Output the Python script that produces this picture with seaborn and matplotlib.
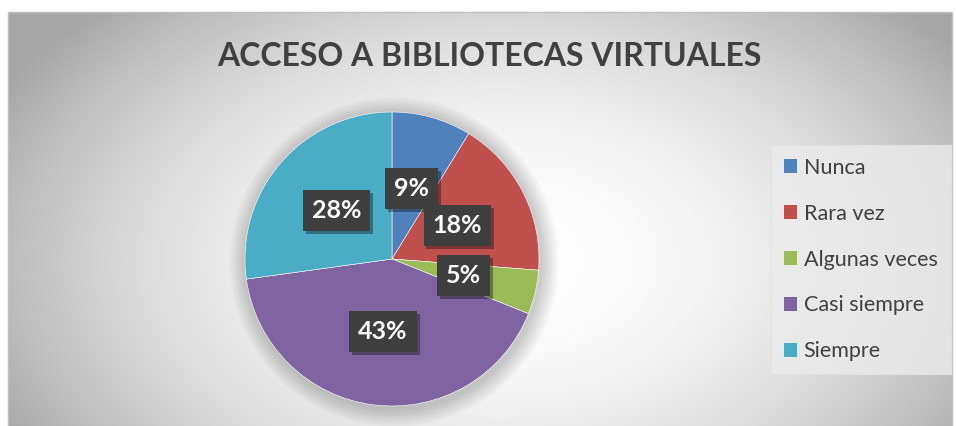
import numpy as np
import matplotlib
matplotlib.use("Agg")
import matplotlib.pyplot as plt
import matplotlib.patheffects as pe
from matplotlib.patches import Patch, Rectangle
import seaborn as sns

# data
categories = ["Nunca", "Rara vez", "Algunas veces", "Casi siempre", "Siempre"]
values = [9, 18, 5, 43, 28]
pct_labels = ["9%", "18%", "5%", "43%", "28%"]
title = "ACCESO A BIBLIOTECAS VIRTUALES"

sns.set_theme(style="white")
plt.rcParams["font.family"] = ["Lato", "DejaVu Sans"]

colors = sns.color_palette(["#4f81bd", "#c0504d", "#9bbb59", "#8064a2", "#4bacc6"])

W, H = 956, 426
fig = plt.figure(figsize=(W / 100, H / 100), dpi=100)
fig.patch.set_facecolor("white")

# background: radial gradient chart area with a thin grey border
bg = fig.add_axes([0, 0, 1, 1], zorder=0)
bg.set_xlim(0, W)
bg.set_ylim(H, 0)
bg.axis("off")
yy, xx = np.mgrid[0:H, 0:W]
d = np.sqrt(((xx - 500) / 470.0) ** 2 + ((yy - 260) / 300.0) ** 2)
shade = 1 - 0.24 * np.clip(d, 0, 1.2) ** 2
left, top, right = 8, 12, 952
img = np.ones((H, W, 3))
for c in range(3):
    img[:, :, c] = shade
img[:top, :, :] = 1
img[:, :left, :] = 1
img[:, right:, :] = 1
bg.imshow(img, extent=(0, W, H, 0), aspect="auto", interpolation="bilinear")
bg.add_patch(Rectangle((left, top), right - left, H - top + 5, fill=False,
                       edgecolor="#bfbfbf", linewidth=1))

# pie
cx, cy, r = 392, 259, 147
ax = fig.add_axes([(cx - r) / W, (H - cy - r) / H, 2 * r / W, 2 * r / H], zorder=2)
ax.patch.set_alpha(0)

# soft shadow around the pie
for k in range(10):
    ax.add_patch(plt.Circle((0.015, -0.02), 1.0 + 0.012 * (k + 1), color="black",
                            alpha=0.018, linewidth=0, zorder=0, clip_on=False))

wedges, texts = ax.pie(values, colors=colors, startangle=90, counterclock=False,
                       labels=pct_labels, labeldistance=0.5,
                       wedgeprops=dict(edgecolor="white", linewidth=0.4))
for t in texts:
    t.set_color("white")
    t.set_fontweight("bold")
    t.set_fontsize(18)
    t.set_ha("center")
    t.set_va("center")
    t.set_bbox(dict(boxstyle="square,pad=0.36", facecolor="#3f3f3f", edgecolor="none"))
    t.get_bbox_patch().set_path_effects([
        pe.SimplePatchShadow(offset=(2, -2), shadow_rgbFace="black", alpha=0.35),
        pe.Normal()])
ax.set_xlim(-1, 1)
ax.set_ylim(-1, 1)
ax.set_aspect("equal")
ax.axis("off")

fig.text(489 / W, 1 - 57 / H, title, ha="center", va="center",
         fontsize=23, fontweight="bold", color="#404040")

handles = [Patch(facecolor=c, edgecolor="none") for c in colors]
leg = fig.legend(handles, categories, loc="upper left",
                 bbox_to_anchor=(771 / W, 1 - 145 / H), fontsize=15.5,
                 frameon=True, fancybox=False, borderpad=0.6, borderaxespad=0,
                 handlelength=0.62, handleheight=0.62, handletextpad=0.3,
                 labelspacing=1.2, labelcolor="#404040")
leg.get_frame().set_facecolor("#ececec")
leg.get_frame().set_edgecolor("#e4e4e4")
leg.get_frame().set_alpha(0.8)
leg.set_zorder(3)

fig.savefig("out.png", dpi=100)
